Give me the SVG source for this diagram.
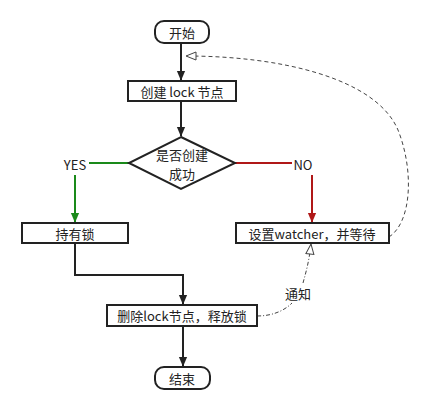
<svg xmlns="http://www.w3.org/2000/svg" width="432" height="409" viewBox="0 0 432 409">
<style>
.box{fill:#fff;stroke:#222;stroke-width:2}
.t{font-family:"Noto Sans CJK SC","Liberation Sans",sans-serif;font-size:13px;fill:#222;text-anchor:middle;dominant-baseline:central}
.k{fill:none;stroke:#222;stroke-width:2}
.g{fill:none;stroke:#1a8a1a;stroke-width:2}
.r{fill:none;stroke:#b01818;stroke-width:2}
.d{fill:none;stroke:#444;stroke-width:1;stroke-dasharray:4 3}
.dd{fill:none;stroke:#444;stroke-width:1;stroke-dasharray:4 2 1 2}
</style>
<defs>
<marker id="ak" markerWidth="10" markerHeight="12" refX="11" refY="5" orient="auto" markerUnits="userSpaceOnUse" viewBox="0 0 12 10"><path d="M0,0 L12,5 L0,10 z" fill="#222"/></marker>
<marker id="ag" markerWidth="10" markerHeight="12" refX="11" refY="5" orient="auto" markerUnits="userSpaceOnUse" viewBox="0 0 12 10"><path d="M0,0 L12,5 L0,10 z" fill="#1a8a1a"/></marker>
<marker id="ar" markerWidth="10" markerHeight="12" refX="11" refY="5" orient="auto" markerUnits="userSpaceOnUse" viewBox="0 0 12 10"><path d="M0,0 L12,5 L0,10 z" fill="#b01818"/></marker>
<marker id="ao" markerWidth="12" markerHeight="10" refX="11" refY="5" orient="auto" markerUnits="userSpaceOnUse"><path d="M1,1 L11,5 L1,9 z" fill="#fff" stroke="#444" stroke-width="1"/></marker>
</defs>
<rect width="432" height="409" fill="#fff"/>
<g id="connectors">
<line class="k" x1="181" y1="43" x2="181" y2="80" marker-end="url(#ak)"/>
<line class="k" x1="181" y1="101" x2="181" y2="136" marker-end="url(#ak)"/>
<polyline class="g" points="129,163 89,163"/>
<polyline class="g" points="75,175 75,222" marker-end="url(#ag)"/>
<polyline class="r" points="235,163 292,163"/>
<polyline class="r" points="312,175 312,222" marker-end="url(#ar)"/>
<polyline class="k" points="75,243 75,275 183,275 183,304" marker-end="url(#ak)"/>
<line class="k" x1="183" y1="326" x2="183" y2="366" marker-end="url(#ak)"/>
<path class="d" d="M389,237 C412,222 414,170 398,130 C376,78 280,56 186,56" marker-end="url(#ao)"/>
<path class="dd" d="M257,316 C272,316 284,311 292,303"/>
<path class="dd" d="M303,283 C306,272 309,262 311,244" marker-end="url(#ao)"/>
</g>
<g id="n-start"><rect class="box" x="155" y="21" width="54" height="22" rx="9"/><text class="t" x="182" y="32">开始</text></g>
<g id="n-create"><rect class="box" x="128" y="81" width="108" height="20"/><text class="t" x="182" y="91">创建 lock 节点</text></g>
<g id="n-decide"><polygon class="box" points="181,137 235,163 181,189 129,163"/><text class="t" x="182" y="154">是否创建</text><text class="t" x="182" y="173">成功</text></g>
<g id="l-yes"><text class="t" x="75" y="164">YES</text></g>
<g id="l-no"><text class="t" x="303" y="164">NO</text></g>
<g id="n-hold"><rect class="box" x="22" y="223" width="106" height="20"/><text class="t" x="75" y="233">持有锁</text></g>
<g id="n-watch"><rect class="box" x="236" y="223" width="153" height="20"/><text class="t" x="312" y="233">设置watcher，并等待</text></g>
<g id="l-notify"><text class="t" x="298" y="293">通知</text></g>
<g id="n-delete"><rect class="box" x="107" y="305" width="150" height="21"/><text class="t" x="182" y="315">删除lock节点，释放锁</text></g>
<g id="n-end"><rect class="box" x="155" y="367" width="55" height="22" rx="9"/><text class="t" x="182" y="378">结束</text></g>
</svg>
